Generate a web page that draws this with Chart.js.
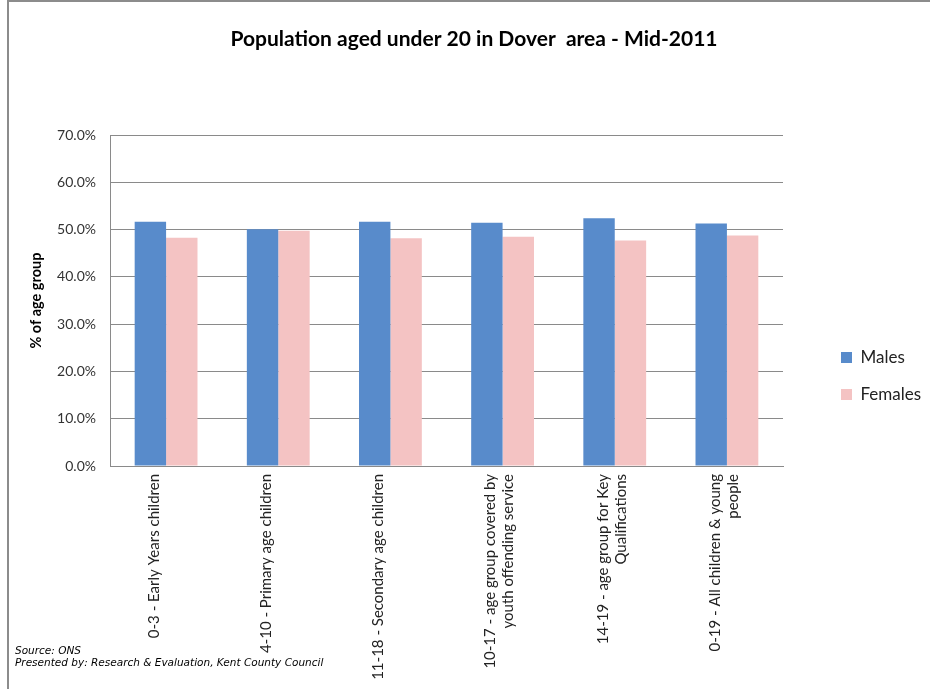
<!DOCTYPE html>
<html>
<head>
<meta charset="utf-8">
<script src="https://cdn.jsdelivr.net/npm/chart.js@4/dist/chart.umd.min.js"></script>
<style>
  body { margin: 0; background: #fff; }
  #wrap { width: 930px; height: 689px; }
</style>
</head>
<body>
<div id="wrap"><canvas id="popChart" width="930" height="689"></canvas></div>
<script>
const categories = [
  "0-3 - Early Years children",
  "4-10 - Primary age children",
  "11-18 - Secondary age children",
  ["10-17 - age group covered by", "youth offending service"],
  ["14-19 - age group for Key", "Qualifications"],
  ["0-19 - All children & young", "people"]
];
const males = [51.7, 50.1, 51.7, 51.5, 52.4, 51.3];
const females = [48.3, 49.8, 48.2, 48.5, 47.7, 48.8];
const yTicks = [0, 10, 20, 30, 40, 50, 60, 70];

const gridGrey = "#8a8a8a";
const font = "Lato, 'Open Sans', sans-serif";

// background, outer frame and source note
const framePlugin = {
  id: "frame",
  beforeDraw(chart) {
    const c = chart.ctx;
    c.save();
    c.fillStyle = "#fff";
    c.fillRect(0, 0, chart.width, chart.height);
    c.strokeStyle = "#8c8c8c";
    c.lineWidth = 2;
    c.beginPath();
    c.moveTo(8, chart.height);
    c.lineTo(8, 1);
    c.lineTo(chart.width, 1);
    c.stroke();
    c.restore();
  },
  afterDraw(chart) {
    const c = chart.ctx;
    c.save();
    c.fillStyle = "#000";
    c.font = "italic 10.5px 'DejaVu Sans', sans-serif";
    c.textBaseline = "middle";
    c.fillText("Source: ONS", 15, 651);
    c.fillText("Presented by: Research & Evaluation, Kent County Council", 15, 663);
    c.restore();
  }
};

// move title and legend to where the original has them
const placePlugin = {
  id: "place",
  afterLayout(chart) {
    const t = chart.titleBlock;
    t.left = 0; t.right = 948;
    const lg = chart.legend;
    const p = lg.options.labels.padding;
    lg.left = 841 - p; lg.right = 930;
    lg.top = 349 - p; lg.bottom = 689;
  }
};

new Chart(document.getElementById("popChart"), {
  type: "bar",
  data: {
    labels: categories,
    datasets: [
      { label: "Males", data: males, backgroundColor: "#588BCB", borderWidth: 0 },
      { label: "Females", data: females, backgroundColor: "#F4C3C3", borderWidth: 0 }
    ]
  },
  options: {
    responsive: false,
    animation: false,
    layout: { padding: { top: 0, right: 147, bottom: 0, left: 0 } },
    categoryPercentage: 0.56,
    barPercentage: 1.0,
    plugins: {
      title: {
        display: true,
        text: "Population aged under 20 in Dover  area - Mid-2011",
        color: "#000",
        font: { family: font, size: 21, weight: "bold" },
        padding: { top: 27, bottom: 83 }
      },
      legend: {
        position: "chartArea",
        align: "start",
        labels: {
          boxWidth: 11,
          boxHeight: 11,
          padding: 20,
          color: "#222",
          font: { family: font, size: 17 }
        }
      },
      tooltip: { enabled: false }
    },
    scales: {
      x: {
        grid: { display: false, drawTicks: false },
        border: { display: true, color: gridGrey, width: 1 },
        ticks: {
          color: "#222",
          font: { family: font, size: 15 },
          minRotation: 90,
          maxRotation: 90,
          padding: 8,
          labelOffset: -12,
          autoSkip: false
        },
        afterFit(scale) { scale.height = 223; }
      },
      y: {
        min: 0,
        max: 70,
        afterBuildTicks(scale) { scale.ticks = yTicks.map(v => ({ value: v })); },
        grid: { color: gridGrey, lineWidth: 1, drawTicks: false },
        border: { display: true, color: gridGrey, width: 1 },
        ticks: {
          color: "#333",
          padding: 14,
          font: { family: font, size: 14 },
          callback: v => v.toFixed(1) + "%"
        },
        title: {
          display: true,
          text: "% of age group",
          color: "#000",
          font: { family: font, size: 14.5, weight: "bold" },
          padding: { top: 28, bottom: 0 }
        },
        afterFit(scale) { scale.width = 110; }
      }
    }
  },
  plugins: [framePlugin, placePlugin]
});
</script>
</body>
</html>
